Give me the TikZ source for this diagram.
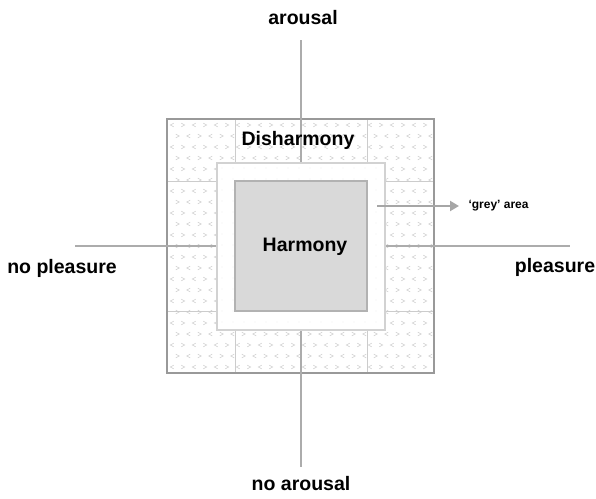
\documentclass[tikz,border=0pt]{standalone}
\usepackage{fontspec}
\setmainfont{Liberation Sans}
\usetikzlibrary{arrows.meta}

\begin{document}
\begin{tikzpicture}[x=1pt,y=-1pt,font=\bfseries\fontsize{19.5}{22}\selectfont,
    axis/.style={draw=gray!65,line width=1.5pt},
    gridline/.style={draw=gray!40,line width=0.8pt},
    chev/.style={draw=gray!35,line width=0.6pt}]

    \useasboundingbox (0,0) rectangle (596,498);

    % disharmony field with its texture
    \fill[white] (167,119) rectangle (434,373);
    \foreach \i in {0,...,23}
      \foreach \j in {0,...,22} {
        \pgfmathsetmacro{\s}{ifthenelse(mod(\i+\j,2)==0,1,-1)}
        \pgfmathsetmacro{\xx}{172+11*\i+5.5*mod(\j,2)}
        \pgfmathsetmacro{\yy}{125+11*\j}
        \draw[chev] (\xx+1.7*\s,\yy-1.8) -- (\xx-1.7*\s,\yy) -- (\xx+1.7*\s,\yy+1.8);
      }

    \draw[gridline] (235,119) -- (235,373);
    \draw[gridline] (367,119) -- (367,373);
    \draw[gridline] (167,181) -- (434,181);
    \draw[gridline] (167,311) -- (434,311);
    \draw[draw=gray!80,line width=2.5pt] (167,119) rectangle (434,373);

    % axes
    \coordinate (top) at (301,40);
    \coordinate (bottom) at (301,467);
    \coordinate (left) at (75,246);
    \coordinate (right) at (570,246);
    \draw[axis] (top) -- (bottom);
    \draw[axis] (left) -- (right);

    % grey area and harmony
    \draw[fill=white,draw=gray!35,line width=1.2pt] (217,163) rectangle (385,330);
    \foreach \i in {0,...,14}
      \foreach \j in {0,...,14}
        \fill[gray!12] (222+11*\i,168+11*\j) circle (0.6);
    \draw[fill=gray!30,draw=gray!60,line width=2pt] (235,181) rectangle (367,311);

    % labels
    \node (arousal) at (303,18) {arousal};
    \node (noarousal) at (301,484) {no arousal};
    \node (nopleasure) at (62,268) {no pleasure};
    \node (pleasure) at (555,267) {pleasure};
    \node (dis) at (298,140) {Disharmony};
    \node (harm) at (305,247) {Harmony};

    \node[anchor=west,font=\bfseries\fontsize{12}{14}\selectfont] (grey) at (465,206) {‘grey’ area};
    \coordinate (greystart) at (377,206);
    \draw[gray!70,line width=2.2pt,-{Triangle[width=10pt,length=9pt]}] (greystart) -- ([xshift=-6pt]grey.west);

\end{tikzpicture}
\end{document}
